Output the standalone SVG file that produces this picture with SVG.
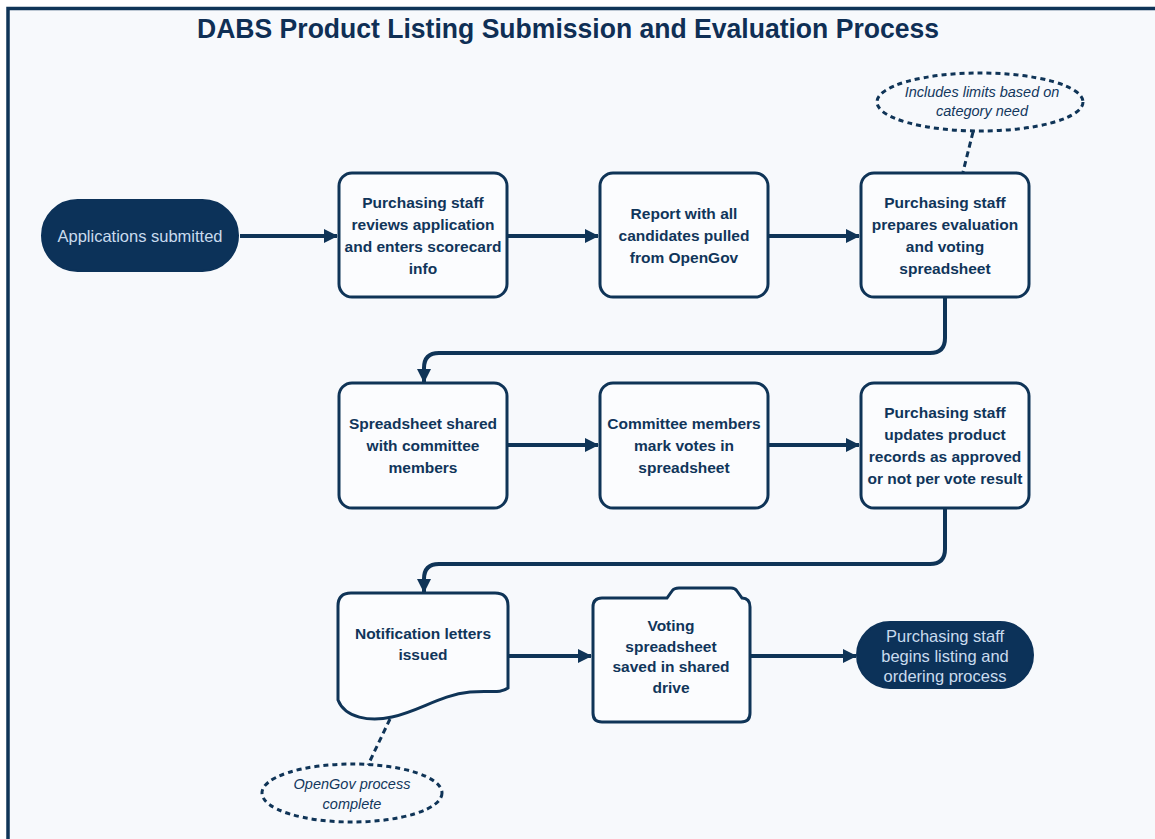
<svg xmlns="http://www.w3.org/2000/svg" width="1155" height="839" viewBox="0 0 1155 839">
<defs>
<marker id="arr" viewBox="0 0 14 14" refX="13" refY="7" markerWidth="14" markerHeight="14" markerUnits="userSpaceOnUse" orient="auto">
<path d="M0,0 L14,7 L0,14 Z" fill="#0f3457"/>
</marker>
<style>
.box{fill:#fbfcfe;stroke:#0f3457;stroke-width:3;}
.term{fill:#0c3259;stroke:#0c3259;stroke-width:2;}
.note{fill:none;stroke:#0f3457;stroke-width:3;stroke-dasharray:5 4;}
.conn{fill:none;stroke:#0f3457;stroke-width:4;}
.dash{fill:none;stroke:#0f3457;stroke-width:3;stroke-dasharray:6 4;}
.t{font-family:"Liberation Sans",Arial,sans-serif;font-weight:bold;font-size:15.5px;fill:#10355a;text-anchor:middle;}
.tt{font-family:"Liberation Sans",Arial,sans-serif;font-size:16.5px;fill:#c9dbee;text-anchor:middle;}
.ti{font-family:"Liberation Sans",Arial,sans-serif;font-style:italic;font-size:14.5px;fill:#12375c;text-anchor:middle;}
.title{font-family:"Liberation Sans",Arial,sans-serif;font-weight:bold;font-size:27px;fill:#0f2f55;text-anchor:middle;}
</style>
</defs>
<rect x="0" y="0" width="1155" height="839" fill="#ffffff"/>
<rect x="8" y="8.5" width="1160" height="850" fill="#f7f9fc" stroke="#0f3457" stroke-width="3.5"/>
<text class="title" x="568" y="38" textLength="742" lengthAdjust="spacingAndGlyphs">DABS Product Listing Submission and Evaluation Process</text>

<g id="connectors">
<path class="conn" d="M240,236 H337" marker-end="url(#arr)"/>
<path class="conn" d="M508,236 H598" marker-end="url(#arr)"/>
<path class="conn" d="M769,236 H859" marker-end="url(#arr)"/>
<path class="conn" d="M945,298 V338 Q945,353 930,353 H439 Q424,353 424,368 V382" marker-end="url(#arr)"/>
<path class="conn" d="M508,445 H598" marker-end="url(#arr)"/>
<path class="conn" d="M769,445 H859" marker-end="url(#arr)"/>
<path class="conn" d="M945,509 V549 Q945,564 930,564 H439 Q424,564 424,579 V592" marker-end="url(#arr)"/>
<path class="conn" d="M509,656 H591" marker-end="url(#arr)"/>
<path class="conn" d="M751,656 H856" marker-end="url(#arr)"/>
<path class="dash" d="M973,132 L963,172"/>
<path class="dash" d="M390,719 L368,765"/>
</g>

<g id="n1">
<rect class="term" x="42" y="200" width="196" height="71" rx="35.5"/>
<text class="tt" x="140" y="242">Applications submitted</text>
</g>

<g id="n2">
<rect class="box" x="339" y="173" width="168" height="124" rx="13"/>
<text class="t" x="423" y="207.5">Purchasing staff</text>
<text class="t" x="423" y="229.5">reviews application</text>
<text class="t" x="423" y="251.5">and enters scorecard</text>
<text class="t" x="423" y="273.5">info</text>
</g>

<g id="n3">
<rect class="box" x="600" y="173" width="168" height="124" rx="13"/>
<text class="t" x="684" y="219">Report with all</text>
<text class="t" x="684" y="241">candidates pulled</text>
<text class="t" x="684" y="263">from OpenGov</text>
</g>

<g id="n4">
<rect class="box" x="861" y="173" width="168" height="124" rx="13"/>
<text class="t" x="945" y="207.5">Purchasing staff</text>
<text class="t" x="945" y="229.5">prepares evaluation</text>
<text class="t" x="945" y="251.5">and voting</text>
<text class="t" x="945" y="273.5">spreadsheet</text>
</g>

<g id="note1">
<ellipse class="note" cx="980" cy="102" rx="103" ry="29"/>
<text class="ti" x="982" y="97">Includes limits based on</text>
<text class="ti" x="982" y="116">category need</text>
</g>

<g id="n5">
<rect class="box" x="339" y="383" width="168" height="125" rx="13"/>
<text class="t" x="423" y="428.5">Spreadsheet shared</text>
<text class="t" x="423" y="450.5">with committee</text>
<text class="t" x="423" y="472.5">members</text>
</g>

<g id="n6">
<rect class="box" x="600" y="383" width="168" height="125" rx="13"/>
<text class="t" x="684" y="428.5">Committee members</text>
<text class="t" x="684" y="450.5">mark votes in</text>
<text class="t" x="684" y="472.5">spreadsheet</text>
</g>

<g id="n7">
<rect class="box" x="861" y="383" width="168" height="125" rx="13"/>
<text class="t" x="945" y="418">Purchasing staff</text>
<text class="t" x="945" y="440">updates product</text>
<text class="t" x="945" y="462">records as approved</text>
<text class="t" x="945" y="484">or not per vote result</text>
</g>

<g id="n8">
<path class="box" d="M351,593 H495 Q508,593 508,606 V688 C500,694 490,690 470,692 C440,695 420,711 392,717 C370,722 345,718 338,700 V606 Q338,593 351,593 Z"/>
<text class="t" x="423" y="638.5">Notification letters</text>
<text class="t" x="423" y="660">issued</text>
</g>

<g id="note2">
<ellipse class="note" cx="352" cy="793" rx="90" ry="29"/>
<text class="ti" x="352" y="789">OpenGov process</text>
<text class="ti" x="352" y="809">complete</text>
</g>

<g id="n9">
<path class="box" d="M593,607 Q593,598 602,598 H667 L672,591 Q674,588 679,588 H731 Q735,588 737,591 L742,598 Q750,598 750,607 V713 Q750,722 741,722 H602 Q593,722 593,713 Z"/>
<text class="t" x="671" y="630.5">Voting</text>
<text class="t" x="671" y="651.5">spreadsheet</text>
<text class="t" x="671" y="672">saved in shared</text>
<text class="t" x="671" y="692.5">drive</text>
</g>

<g id="n10">
<rect class="term" x="857" y="622" width="176" height="66" rx="33"/>
<text class="tt" x="945" y="641.5">Purchasing staff</text>
<text class="tt" x="945" y="661.5">begins listing and</text>
<text class="tt" x="945" y="681.5">ordering process</text>
</g>
</svg>
